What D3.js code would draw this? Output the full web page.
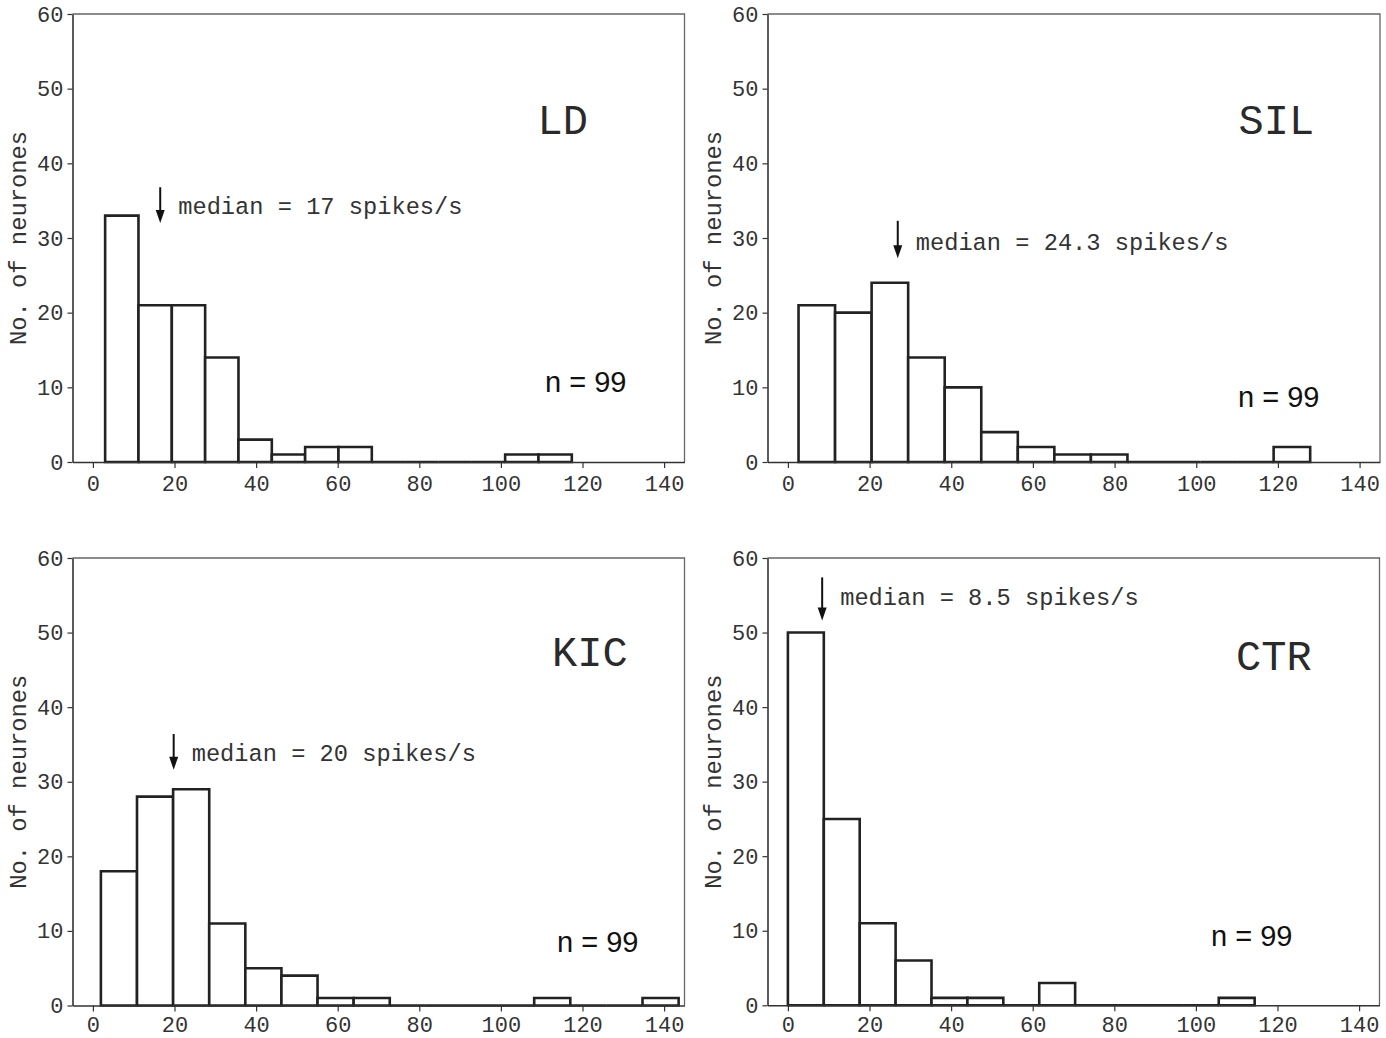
<!DOCTYPE html>
<html>
<head>
<meta charset="utf-8">
<script src="https://cdn.jsdelivr.net/npm/d3@7"></script>
<style>
  html, body { margin: 0; padding: 0; background: #fff; }
  svg { display: block; }
</style>
</head>
<body>
<svg id="chart" width="1386" height="1038"></svg>
<script>
// ---------------- DATA ----------------
const panelNames = ["LD", "SIL", "KIC", "CTR"];
const binStart = [3.0, 2.6, 1.96, 0.0];          // spikes/s, left edge of first bin
const binWidth = [8.17, 8.95, 8.85, 8.8];        // spikes/s
const countsLD  = [33, 21, 21, 14, 3, 1, 2, 2, 0, 0, 0, 0, 1, 1];
const countsSIL = [21, 20, 24, 14, 10, 4, 2, 1, 1, 0, 0, 0, 0, 2];
const countsKIC = [18, 28, 29, 11, 5, 4, 1, 1, 0, 0, 0, 0, 1, 0, 0, 1];
const countsCTR = [50, 25, 11, 6, 1, 1, 0, 3, 0, 0, 0, 0, 1];
const medianLabels = ["median = 17 spikes/s", "median = 24.3 spikes/s", "median = 20 spikes/s", "median = 8.5 spikes/s"];
const arrowX   = [16.5, 26.9, 19.8, 8.4];   // spikes/s
const arrowTop = [36.8, 32.3, 36.4, 57.4];  // counts
const arrowTip = [32.0, 27.3, 31.6, 51.6];  // counts
const nLabels = ["n = 99", "n = 99", "n = 99", "n = 99"];
const xTicks = [0, 20, 40, 60, 80, 100, 120, 140];
const yTicks = [0, 10, 20, 30, 40, 50, 60];
const xDomain = [-5, 145];
const yDomain = [0, 60];
const yLabel = "No. of neurones";

const allCounts = [countsLD, countsSIL, countsKIC, countsCTR];

// ---------------- LAYOUT ----------------
const frames = [
  { l: 72.5,  t: 14,  r: 684.5, b: 462 },
  { l: 767.5, t: 14,  r: 1380,  b: 462 },
  { l: 72.5,  t: 558, r: 684.5, b: 1005.5 },
  { l: 767.5, t: 558, r: 1379.5, b: 1005.3 }
];
const titlePos = [[465, 134 - 14], [471, 134 - 14], [479.5, 666 - 558], [468.5, 670 - 558]];
const nPos = [[472.5, 378], [470.5, 393], [484.5, 394], [443.5, 388]];
const medianDy = [26.5, 29, 26.5, 28];
const xTickPad = [7, 7, 5, 5];

const MONO = "'Liberation Mono', 'Courier New', monospace";
const SANS = "'Liberation Sans', Arial, Helvetica, sans-serif";
const INK = "#222";

const svg = d3.select("#chart");

panelNames.forEach((name, i) => {
  const f = frames[i];
  const w = f.r - f.l, h = f.b - f.t;
  const g = svg.append("g").attr("transform", `translate(${f.l},${f.t})`);

  const x = d3.scaleLinear().domain(xDomain).range([0, w]);
  const y = d3.scaleLinear().domain(yDomain).range([h, 0]);

  // frame top & right (thin grey)
  g.append("path")
    .attr("d", `M0,0H${w}V${h}`)
    .attr("fill", "none").attr("stroke", "#666").attr("stroke-width", 1.3);

  // bars (including zero-height ones, drawn as flat outlines)
  const counts = allCounts[i];
  let last = counts.length - 1;
  while (last > 0 && counts[last] === 0) last--;
  const bins = counts.slice(0, last + 1).map((c, k) => ({
    x0: binStart[i] + k * binWidth[i],
    x1: binStart[i] + (k + 1) * binWidth[i],
    c
  }));
  g.selectAll("path.bar").data(bins).join("path")
    .attr("class", "bar")
    .attr("d", d => `M${x(d.x0)},${y(0)}V${y(d.c)}H${x(d.x1)}V${y(0)}Z`)
    .attr("fill", "#fff").attr("stroke", INK).attr("stroke-width", 2.6)
    .attr("stroke-linejoin", "miter");

  // x axis
  const xAxis = d3.axisBottom(x).tickValues(xTicks).tickSize(6).tickPadding(xTickPad[i]).tickSizeOuter(0);
  const gx = g.append("g").attr("transform", `translate(0,${h})`).call(xAxis);
  gx.select(".domain").attr("stroke", "#333").attr("stroke-width", 1.6);
  gx.selectAll(".tick line").attr("stroke", "#333").attr("stroke-width", 1.2);
  gx.selectAll(".tick text")
    .attr("font-family", MONO).attr("font-size", 22).attr("fill", "#333");

  // y axis
  const yAxis = d3.axisLeft(y).tickValues(yTicks).tickSize(5).tickPadding(4).tickSizeOuter(0);
  const gy = g.append("g").call(yAxis);
  gy.select(".domain").attr("stroke", "#333").attr("stroke-width", 1.6);
  gy.selectAll(".tick line").attr("stroke", "#333").attr("stroke-width", 1.2);
  gy.selectAll(".tick text")
    .attr("font-family", MONO).attr("font-size", 22).attr("fill", "#333");

  // y label
  g.append("text")
    .attr("transform", `translate(-47,${h / 2}) rotate(-90)`)
    .attr("text-anchor", "middle")
    .attr("font-family", MONO).attr("font-size", 23.8).attr("fill", "#333")
    .text(yLabel);

  // title
  g.append("text")
    .attr("x", titlePos[i][0]).attr("y", titlePos[i][1])
    .attr("font-family", MONO).attr("font-size", 42).attr("fill", "#2a2a2a")
    .text(name);

  // n label
  g.append("text")
    .attr("x", nPos[i][0]).attr("y", nPos[i][1])
    .attr("font-family", SANS).attr("font-size", 29).attr("fill", "#111")
    .text(nLabels[i]);

  // median arrow
  const ax = x(arrowX[i]);
  const yTop = y(arrowTop[i]);
  const yTip = y(arrowTip[i]);
  const headLen = 13, headW = 4.5;
  g.append("line")
    .attr("x1", ax).attr("x2", ax).attr("y1", yTop).attr("y2", yTip - headLen + 2)
    .attr("stroke", "#111").attr("stroke-width", 2);
  g.append("path")
    .attr("d", `M${ax - headW},${yTip - headLen}L${ax + headW},${yTip - headLen}L${ax},${yTip}Z`)
    .attr("fill", "#111");
  g.append("text")
    .attr("x", ax + 18).attr("y", yTop + medianDy[i])
    .attr("font-family", MONO).attr("font-size", 23.7).attr("fill", "#333")
    .text(medianLabels[i]);
});
</script>
</body>
</html>
